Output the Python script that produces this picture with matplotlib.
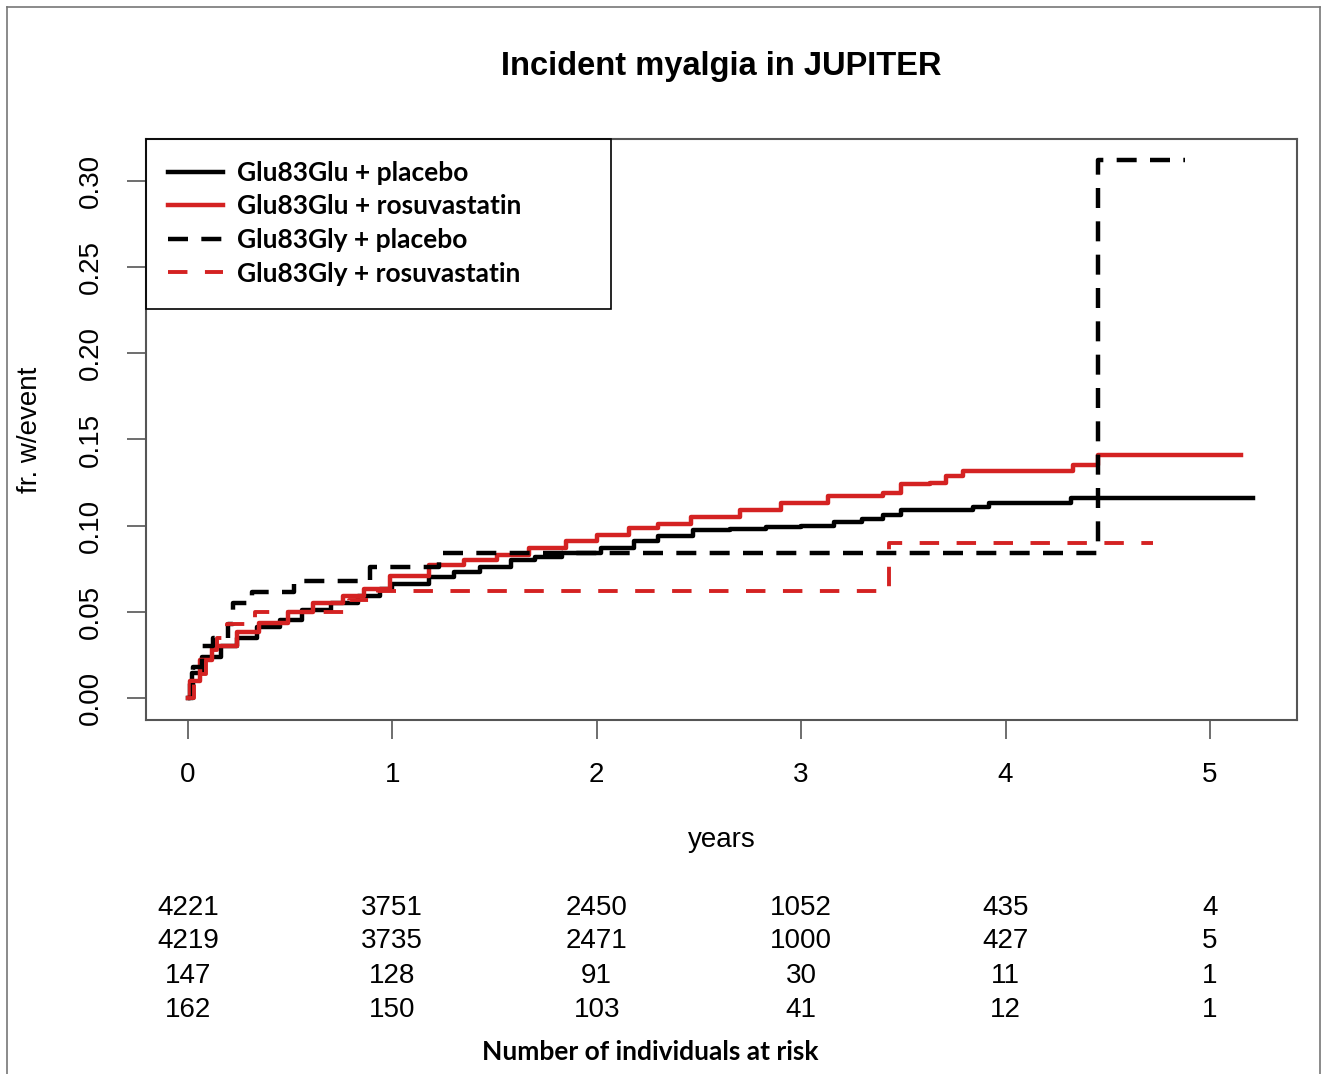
import matplotlib
matplotlib.use("Agg")
import matplotlib.pyplot as plt
import matplotlib.transforms as mtransforms
from matplotlib.patches import Rectangle
from matplotlib.lines import Line2D

# Kaplan-Meier style cumulative incidence
# (time in years, fraction with event)
glu_plac_t = [0, 0.01, 0.02, 0.07, 0.16, 0.24, 0.34, 0.45, 0.56, 0.70, 0.83, 0.94,
              1.00, 1.18, 1.30, 1.43, 1.58, 1.70, 1.83, 2.02, 2.18, 2.30, 2.47,
              2.65, 2.83, 3.00, 3.16, 3.30, 3.40, 3.49, 3.84, 3.92, 4.32, 5.21]
glu_plac_y = [0, 0.008, 0.0145, 0.024, 0.030, 0.035, 0.041, 0.045, 0.051, 0.055, 0.059, 0.063,
              0.066, 0.070, 0.073, 0.076, 0.080, 0.082, 0.084, 0.087, 0.091, 0.094, 0.0975,
              0.098, 0.099, 0.100, 0.102, 0.104, 0.106, 0.109, 0.111, 0.113, 0.116, 0.116]

glu_rosu_t = [0, 0.01, 0.06, 0.12, 0.24, 0.35, 0.49, 0.61, 0.76, 0.86, 0.99, 1.18,
              1.35, 1.51, 1.67, 1.85, 2.00, 2.16, 2.30, 2.46, 2.70, 2.90, 3.13,
              3.40, 3.49, 3.63, 3.71, 3.79, 4.33, 4.45, 5.15]
glu_rosu_y = [0, 0.010, 0.022, 0.030, 0.038, 0.0435, 0.050, 0.055, 0.059, 0.063, 0.071, 0.077,
              0.080, 0.083, 0.087, 0.091, 0.0945, 0.0985, 0.101, 0.105, 0.109, 0.113, 0.117,
              0.119, 0.124, 0.125, 0.129, 0.132, 0.135, 0.141, 0.141]

gly_plac_t = [0, 0.024, 0.068, 0.122, 0.196, 0.22, 0.313, 0.52, 0.89, 1.23, 4.45, 4.88]
gly_plac_y = [0, 0.018, 0.030, 0.035, 0.043, 0.055, 0.0615, 0.068, 0.076, 0.084, 0.312, 0.312]

gly_rosu_t = [0, 0.03, 0.09, 0.14, 0.19, 0.33, 0.79, 0.93, 3.43, 4.72]
gly_rosu_y = [0, 0.014, 0.028, 0.035, 0.043, 0.050, 0.057, 0.062, 0.090, 0.090]

labels = ["Glu83Glu + placebo", "Glu83Glu + rosuvastatin",
          "Glu83Gly + placebo", "Glu83Gly + rosuvastatin"]

# numbers at risk
risk_times = [0, 1, 2, 3, 4, 5]
risk_glu_plac = [4221, 3751, 2450, 1052, 435, 4]
risk_glu_rosu = [4219, 3735, 2471, 1000, 427, 5]
risk_gly_plac = [147, 128, 91, 30, 11, 1]
risk_gly_rosu = [162, 150, 103, 41, 12, 1]

RED = "#d42222"
plt.rcParams["font.family"] = ["Liberation Sans", "DejaVu Sans"]

fig = plt.figure(figsize=(13.28, 10.74), dpi=100)
ax = fig.add_axes([146 / 1328, 1 - 720 / 1074, 1151 / 1328, 581 / 1074])

ax.step(glu_plac_t, glu_plac_y, where="post", color="black", lw=3.2, label=labels[0])
ax.step(glu_rosu_t, glu_rosu_y, where="post", color=RED, lw=3.2, label=labels[1])
ax.step(gly_plac_t, gly_plac_y, where="post", color="black", lw=3.2,
        dashes=(4.5, 3.0), label=labels[2])
ax.step(gly_rosu_t, gly_rosu_y, where="post", color=RED, lw=2.8,
        dashes=(5, 4.5), label=labels[3])

ax.set_xlim(-0.205, 5.426)
ax.set_ylim(-0.0128, 0.3244)
ax.set_xticks(risk_times)
ax.set_yticks([0, 0.05, 0.10, 0.15, 0.20, 0.25, 0.30])
ax.set_yticklabels(["0.00", "0.05", "0.10", "0.15", "0.20", "0.25", "0.30"])
ax.tick_params(axis="both", length=14, width=1.2, color="#555555",
               labelsize=20, pad=16)
ax.tick_params(axis="y", labelrotation=90)
for lab in ax.get_yticklabels():
    lab.set_va("center")
for s in ax.spines.values():
    s.set_color("#555555")
    s.set_linewidth(1.5)

ax.set_xlabel("years", fontsize=20, va="center")
ax.xaxis.set_label_coords(0.5, -(840 - 720) / 581)
ax.set_ylabel("fr. w/event", fontsize=20, va="center")
ax.yaxis.set_label_coords(-(146 - 30) / 1151, 0.5)
ax.set_title("Incident myalgia in JUPITER", fontsize=23.5, fontweight="bold",
             y=1 + (139 - 75) / 581, va="center")

# legend with a box like R's legend()
ax.add_patch(Rectangle((0, 1 - 170 / 581), 465 / 1151, 170 / 581,
                       transform=ax.transAxes, fill=False, ec="black", lw=1.2,
                       zorder=5, clip_on=False))
leg = ax.legend(loc="upper left", bbox_to_anchor=(22 / 1151, 1 - 22 / 581),
                frameon=False, handlelength=2.1, handletextpad=0.5,
                labelspacing=0.36, borderaxespad=0, borderpad=0,
                prop={"family": "Lato", "weight": "bold", "size": 19})

# numbers at risk table
trans = mtransforms.blended_transform_factory(ax.transData, fig.transFigure)
rows = [risk_glu_plac, risk_glu_rosu, risk_gly_plac, risk_gly_rosu]
row_y = [908, 941, 976, 1010]
for vals, py in zip(rows, row_y):
    for t, v in zip(risk_times, vals):
        ax.text(t, 1 - py / 1074, str(v), transform=trans, ha="center",
                va="center", fontsize=20, clip_on=False)
fig.text(650 / 1328, 1 - 1052 / 1074, "Number of individuals at risk",
         ha="center", va="center", fontsize=19, fontweight="bold", family="Lato")

# thin frame around the picture
for xs, ys in [([7, 7], [7, 1074]), ([7, 1320], [7, 7]), ([1320, 1320], [7, 1074])]:
    fig.add_artist(Line2D([x / 1328 for x in xs], [1 - y / 1074 for y in ys],
                          color="#777777", lw=1.2))

fig.savefig("out.png", dpi=100)
